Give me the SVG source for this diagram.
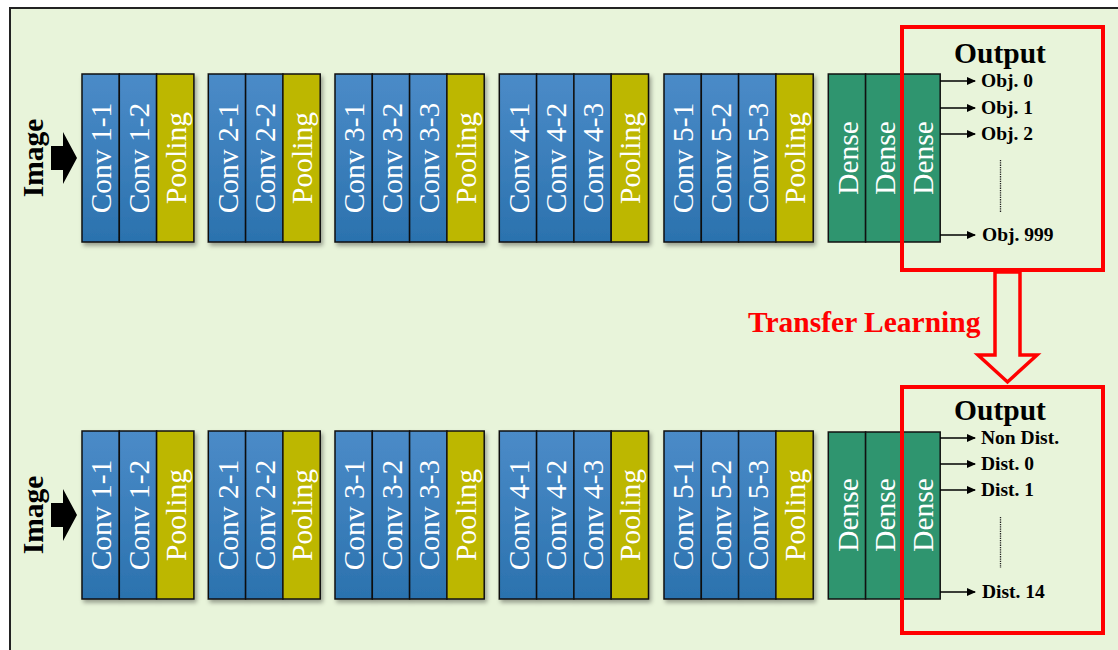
<svg xmlns="http://www.w3.org/2000/svg" width="1118" height="650" viewBox="0 0 1118 650">
<defs>
<linearGradient id="gConv" x1="0" y1="0" x2="0" y2="1">
<stop offset="0" stop-color="#4b8bc8"/>
<stop offset="1" stop-color="#2b72ae"/>
</linearGradient>
<filter id="sh" x="-10%" y="-10%" width="130%" height="130%">
<feDropShadow dx="2" dy="3" stdDeviation="2" flood-color="#000" flood-opacity="0.35"/>
</filter>
<marker id="ah" markerWidth="9" markerHeight="8" refX="8" refY="4" orient="auto" markerUnits="userSpaceOnUse">
<path d="M0,0 L9,4 L0,8 Z" fill="#000"/>
</marker>
</defs>
<style>
.conv{fill:url(#gConv);stroke:#111;stroke-width:1.5}
.pool{fill:#bdb700;stroke:#111;stroke-width:1.5}
.dense{fill:#2f956f;stroke:#111;stroke-width:1.5}
.lbl{font-family:"Liberation Serif","Times New Roman",serif;font-size:29.5px;fill:#fff;text-anchor:middle}
.img{font-family:"Liberation Serif","Times New Roman",serif;font-size:29.5px;font-weight:bold;fill:#000;text-anchor:middle}
.out{font-family:"Liberation Serif","Times New Roman",serif;font-size:29.5px;font-weight:bold;fill:#000;text-anchor:middle}
.cls{font-family:"Liberation Serif","Times New Roman",serif;font-size:19.5px;font-weight:bold;fill:#000}
.tl{font-family:"Liberation Serif","Times New Roman",serif;font-size:29.5px;font-weight:bold;fill:#ff0000}
.redbox{fill:none;stroke:#ff0000;stroke-width:4}
.oarrow{stroke:#000;stroke-width:1.5;fill:none;marker-end:url(#ah)}
.dots{stroke:#222;stroke-width:1.3;stroke-dasharray:1.3 1}
</style>
<rect x="10" y="8" width="1130" height="670" fill="#e8f4da" stroke="#222" stroke-width="2"/>

<!-- top row -->
<g id="top-input">
<polygon points="51,146 63,146 63,132 77,158 63,184 63,170 51,170" fill="#000"/>
<text class="img" transform="translate(33,158) rotate(-90)" x="0" y="10">Image</text>
</g>
<g id="top-block1" filter="url(#sh)">
<rect class="conv" x="82" y="74" width="37.3" height="168"/>
<rect class="conv" x="119.3" y="74" width="37.3" height="168"/>
<rect class="pool" x="156.6" y="74" width="37.3" height="168"/>
</g>
<g id="top-block1-text">
<text class="lbl" transform="translate(100.7,158) rotate(-90)" y="10.5">Conv 1-1</text>
<text class="lbl" transform="translate(138,158) rotate(-90)" y="10.5">Conv 1-2</text>
<text class="lbl" transform="translate(175.3,158) rotate(-90)" y="10.5">Pooling</text>
</g>
<g id="top-block2" filter="url(#sh)">
<rect class="conv" x="208.3" y="74" width="37.3" height="168"/>
<rect class="conv" x="245.6" y="74" width="37.3" height="168"/>
<rect class="pool" x="282.9" y="74" width="37.3" height="168"/>
</g>
<g id="top-block2-text">
<text class="lbl" transform="translate(227,158) rotate(-90)" y="10.5">Conv 2-1</text>
<text class="lbl" transform="translate(264.3,158) rotate(-90)" y="10.5">Conv 2-2</text>
<text class="lbl" transform="translate(301.6,158) rotate(-90)" y="10.5">Pooling</text>
</g>
<g id="top-block3" filter="url(#sh)">
<rect class="conv" x="335" y="74" width="37.3" height="168"/>
<rect class="conv" x="372.3" y="74" width="37.3" height="168"/>
<rect class="conv" x="409.6" y="74" width="37.3" height="168"/>
<rect class="pool" x="446.9" y="74" width="37.3" height="168"/>
</g>
<g id="top-block3-text">
<text class="lbl" transform="translate(353.7,158) rotate(-90)" y="10.5">Conv 3-1</text>
<text class="lbl" transform="translate(391,158) rotate(-90)" y="10.5">Conv 3-2</text>
<text class="lbl" transform="translate(428.3,158) rotate(-90)" y="10.5">Conv 3-3</text>
<text class="lbl" transform="translate(465.6,158) rotate(-90)" y="10.5">Pooling</text>
</g>
<g id="top-block4" filter="url(#sh)">
<rect class="conv" x="499.3" y="74" width="37.3" height="168"/>
<rect class="conv" x="536.6" y="74" width="37.3" height="168"/>
<rect class="conv" x="573.9" y="74" width="37.3" height="168"/>
<rect class="pool" x="611.2" y="74" width="37.3" height="168"/>
</g>
<g id="top-block4-text">
<text class="lbl" transform="translate(518,158) rotate(-90)" y="10.5">Conv 4-1</text>
<text class="lbl" transform="translate(555.3,158) rotate(-90)" y="10.5">Conv 4-2</text>
<text class="lbl" transform="translate(592.6,158) rotate(-90)" y="10.5">Conv 4-3</text>
<text class="lbl" transform="translate(629.9,158) rotate(-90)" y="10.5">Pooling</text>
</g>
<g id="top-block5" filter="url(#sh)">
<rect class="conv" x="664" y="74" width="37.3" height="168"/>
<rect class="conv" x="701.3" y="74" width="37.3" height="168"/>
<rect class="conv" x="738.6" y="74" width="37.3" height="168"/>
<rect class="pool" x="775.9" y="74" width="37.3" height="168"/>
</g>
<g id="top-block5-text">
<text class="lbl" transform="translate(682.7,158) rotate(-90)" y="10.5">Conv 5-1</text>
<text class="lbl" transform="translate(720,158) rotate(-90)" y="10.5">Conv 5-2</text>
<text class="lbl" transform="translate(757.3,158) rotate(-90)" y="10.5">Conv 5-3</text>
<text class="lbl" transform="translate(794.6,158) rotate(-90)" y="10.5">Pooling</text>
</g>
<g id="top-dense">
<rect class="dense" x="828.3" y="74" width="37.3" height="168"/>
<rect class="dense" x="865.6" y="74" width="37.3" height="168"/>
<rect class="dense" x="902.9" y="74" width="37.3" height="168"/>
<text class="lbl" transform="translate(847,158) rotate(-90)" y="11">Dense</text>
<text class="lbl" transform="translate(884.3,158) rotate(-90)" y="11">Dense</text>
<text class="lbl" transform="translate(921.6,158) rotate(-90)" y="11">Dense</text>
</g>
<g id="top-output">
<rect class="redbox" x="902" y="27" width="201" height="243"/>
<text class="out" x="1000" y="63">Output</text>
<text class="cls" x="981" y="87">Obj. 0</text>
<text class="cls" x="981" y="114">Obj. 1</text>
<text class="cls" x="981" y="140">Obj. 2</text>
<text class="cls" x="982" y="241">Obj. 999</text>
<line class="dots" x1="1000.5" y1="160" x2="1000.5" y2="212"/>
</g>

<!-- bottom row -->
<g id="bottom-input">
<polygon points="51,503 63,503 63,489 77,515 63,541 63,527 51,527" fill="#000"/>
<text class="img" transform="translate(33,515) rotate(-90)" x="0" y="10">Image</text>
</g>
<g id="bottom-block1" filter="url(#sh)">
<rect class="conv" x="82" y="431" width="37.3" height="168"/>
<rect class="conv" x="119.3" y="431" width="37.3" height="168"/>
<rect class="pool" x="156.6" y="431" width="37.3" height="168"/>
</g>
<g id="bottom-block1-text">
<text class="lbl" transform="translate(100.7,515) rotate(-90)" y="10.5">Conv 1-1</text>
<text class="lbl" transform="translate(138,515) rotate(-90)" y="10.5">Conv 1-2</text>
<text class="lbl" transform="translate(175.3,515) rotate(-90)" y="10.5">Pooling</text>
</g>
<g id="bottom-block2" filter="url(#sh)">
<rect class="conv" x="208.3" y="431" width="37.3" height="168"/>
<rect class="conv" x="245.6" y="431" width="37.3" height="168"/>
<rect class="pool" x="282.9" y="431" width="37.3" height="168"/>
</g>
<g id="bottom-block2-text">
<text class="lbl" transform="translate(227,515) rotate(-90)" y="10.5">Conv 2-1</text>
<text class="lbl" transform="translate(264.3,515) rotate(-90)" y="10.5">Conv 2-2</text>
<text class="lbl" transform="translate(301.6,515) rotate(-90)" y="10.5">Pooling</text>
</g>
<g id="bottom-block3" filter="url(#sh)">
<rect class="conv" x="335" y="431" width="37.3" height="168"/>
<rect class="conv" x="372.3" y="431" width="37.3" height="168"/>
<rect class="conv" x="409.6" y="431" width="37.3" height="168"/>
<rect class="pool" x="446.9" y="431" width="37.3" height="168"/>
</g>
<g id="bottom-block3-text">
<text class="lbl" transform="translate(353.7,515) rotate(-90)" y="10.5">Conv 3-1</text>
<text class="lbl" transform="translate(391,515) rotate(-90)" y="10.5">Conv 3-2</text>
<text class="lbl" transform="translate(428.3,515) rotate(-90)" y="10.5">Conv 3-3</text>
<text class="lbl" transform="translate(465.6,515) rotate(-90)" y="10.5">Pooling</text>
</g>
<g id="bottom-block4" filter="url(#sh)">
<rect class="conv" x="499.3" y="431" width="37.3" height="168"/>
<rect class="conv" x="536.6" y="431" width="37.3" height="168"/>
<rect class="conv" x="573.9" y="431" width="37.3" height="168"/>
<rect class="pool" x="611.2" y="431" width="37.3" height="168"/>
</g>
<g id="bottom-block4-text">
<text class="lbl" transform="translate(518,515) rotate(-90)" y="10.5">Conv 4-1</text>
<text class="lbl" transform="translate(555.3,515) rotate(-90)" y="10.5">Conv 4-2</text>
<text class="lbl" transform="translate(592.6,515) rotate(-90)" y="10.5">Conv 4-3</text>
<text class="lbl" transform="translate(629.9,515) rotate(-90)" y="10.5">Pooling</text>
</g>
<g id="bottom-block5" filter="url(#sh)">
<rect class="conv" x="664" y="431" width="37.3" height="168"/>
<rect class="conv" x="701.3" y="431" width="37.3" height="168"/>
<rect class="conv" x="738.6" y="431" width="37.3" height="168"/>
<rect class="pool" x="775.9" y="431" width="37.3" height="168"/>
</g>
<g id="bottom-block5-text">
<text class="lbl" transform="translate(682.7,515) rotate(-90)" y="10.5">Conv 5-1</text>
<text class="lbl" transform="translate(720,515) rotate(-90)" y="10.5">Conv 5-2</text>
<text class="lbl" transform="translate(757.3,515) rotate(-90)" y="10.5">Conv 5-3</text>
<text class="lbl" transform="translate(794.6,515) rotate(-90)" y="10.5">Pooling</text>
</g>
<g id="bottom-dense">
<rect class="dense" x="828.3" y="432" width="37.3" height="167"/>
<rect class="dense" x="865.6" y="432" width="37.3" height="167"/>
<rect class="dense" x="902.9" y="432" width="37.3" height="167"/>
<text class="lbl" transform="translate(847,515) rotate(-90)" y="11">Dense</text>
<text class="lbl" transform="translate(884.3,515) rotate(-90)" y="11">Dense</text>
<text class="lbl" transform="translate(921.6,515) rotate(-90)" y="11">Dense</text>
</g>
<g id="bottom-output">
<rect class="redbox" x="902" y="387" width="201" height="246"/>
<text class="out" x="1000" y="420">Output</text>
<text class="cls" x="981" y="444">Non Dist.</text>
<text class="cls" x="981" y="470">Dist. 0</text>
<text class="cls" x="981" y="496">Dist. 1</text>
<text class="cls" x="982" y="598">Dist. 14</text>
<line class="dots" x1="1000.5" y1="517" x2="1000.5" y2="568"/>
</g>

<g id="transfer">
<text class="tl" x="748" y="332">Transfer Learning</text>
<polygon points="995,272 1020,272 1020,355 1037,355 1007.5,382 978,355 995,355" fill="#e8f4da" stroke="#ff0000" stroke-width="3.5" stroke-linejoin="miter"/>
</g>

<g id="connectors">
<line class="oarrow" x1="940" y1="81" x2="975" y2="81"/>
<line class="oarrow" x1="940" y1="108" x2="975" y2="108"/>
<line class="oarrow" x1="940" y1="134" x2="975" y2="134"/>
<line class="oarrow" x1="940" y1="235" x2="975" y2="235"/>
<line class="oarrow" x1="940" y1="438" x2="975" y2="438"/>
<line class="oarrow" x1="940" y1="464" x2="975" y2="464"/>
<line class="oarrow" x1="940" y1="490" x2="975" y2="490"/>
<line class="oarrow" x1="940" y1="592" x2="975" y2="592"/>
</g>
</svg>
